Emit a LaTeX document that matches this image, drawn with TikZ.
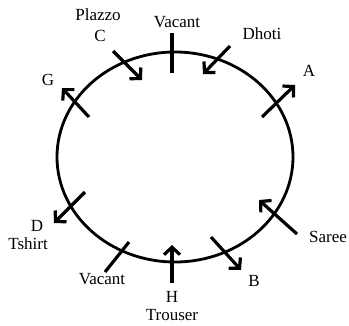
\documentclass[tikz,border=0pt]{standalone}
\usepackage{fontspec}
\setmainfont{Liberation Serif}
\usetikzlibrary{arrows.meta,shapes.geometric}

\begin{document}
\begin{tikzpicture}[x=1pt, y=-1pt,
  lbl/.style={font=\fontsize{17}{19}\selectfont, inner sep=0pt},
  arr/.style={-{Straight Barb[length=7.5pt, width=16pt]}, line width=3.2pt},
  tickmark/.style={line width=3.2pt}
]
\useasboundingbox (0,0) rectangle (349,325);

% Table
\node[draw, line width=2.8pt, ellipse, minimum width=236pt, minimum height=210pt,
      inner sep=0pt] (table) at (175,157) {};

% Free ends of the markers
\coordinate (vt1) at (172,33);   \coordinate (vt2) at (172,73);
\coordinate (c1)  at (113,51);   \coordinate (c2)  at (142,80);
\coordinate (dh1) at (230,46);   \coordinate (dh2) at (203,74);
\coordinate (a1)  at (262,117);  \coordinate (a2)  at (295,85);
\coordinate (g1)  at (89,117);   \coordinate (g2)  at (62,88);
\coordinate (d1)  at (85,192);   \coordinate (d2)  at (54,223);
\coordinate (vb1) at (129,242);  \coordinate (vb2) at (105,272);
\coordinate (h1)  at (172,283);  \coordinate (h2)  at (172,245);
\coordinate (b1)  at (211,237);  \coordinate (b2)  at (241,270);
\coordinate (s1)  at (297,234);  \coordinate (s2)  at (259,200);

% Markers
\draw[tickmark] (vt1) -- (vt2);
\draw[arr] (c1) -- (c2);
\draw[arr] (dh1) -- (dh2);
\draw[arr] (a1) -- (a2);
\draw[arr] (g1) -- (g2);
\draw[arr] (d1) -- (d2);
\draw[tickmark] (vb1) -- (vb2);
\draw[arr] (h1) -- (h2);
\draw[arr] (b1) -- (b2);
\draw[arr] (s1) -- (s2);

% Labels
\node[lbl] (vtop)    at (177,22)  {Vacant};
\node[lbl] (plazzo)  at (98,15)   {Plazzo};
\node[lbl] (clab)    at (100,36)  {C};
\node[lbl] (dhoti)   at (262,34)  {Dhoti};
\node[lbl] (alab)    at (309,71)  {A};
\node[lbl] (glab)    at (48,80)   {G};
\node[lbl] (dlab)    at (37,226)  {D};
\node[lbl] (tshirt)  at (28,244)  {Tshirt};
\node[lbl] (vbot)    at (102,279) {Vacant};
\node[lbl] (hlab)    at (172,297) {H};
\node[lbl] (trouser) at (172,315) {Trouser};
\node[lbl] (blab)    at (254,281) {B};
\node[lbl] (saree)   at (328,237) {Saree};
\end{tikzpicture}
\end{document}
